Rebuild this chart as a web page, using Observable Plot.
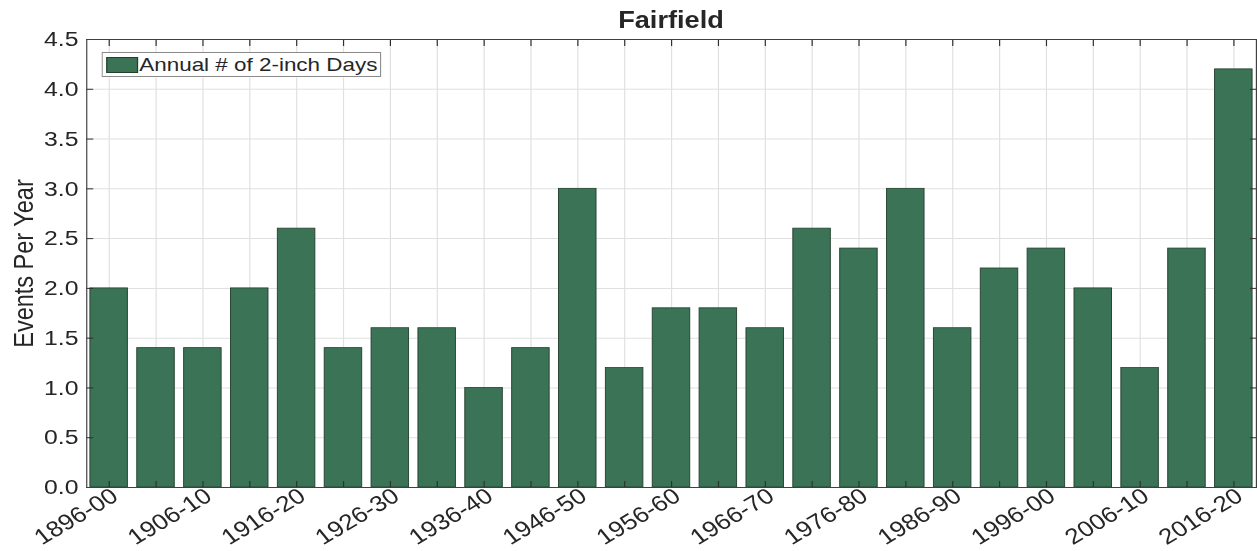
<!DOCTYPE html>
<html>
<head>
<meta charset="utf-8">
<script src="https://cdn.jsdelivr.net/npm/d3@7"></script>
<script src="https://cdn.jsdelivr.net/npm/@observablehq/plot@0.6"></script>
<style>
  html, body { margin: 0; padding: 0; background: #fff; overflow: hidden; }
  #wrap { position: relative; width: 1065px; height: 551px; transform-origin: 0 0; font-family: "Liberation Sans", Arial, sans-serif; color: #262626; }
  #title { position: absolute; top: 0; height: 40px; line-height: 40px; text-align: center; font-weight: bold; font-size: 23px; }
  #legend { position: absolute; left: 86px; top: 52px; width: 237px; height: 25px; border: 1px solid #8a8a8a; background: #fff; box-sizing: border-box; display: flex; align-items: center; font-size: 19px; }
  #legend .sw { width: 27px; height: 16px; background: #3a7356; border: 1px solid #26402f; box-sizing: border-box; margin-left: 3px; margin-right: 1px; }
</style>
</head>
<body>
<div id="wrap">
  <div id="chart"></div>
  <div id="title"></div>
  <div id="legend"><div class="sw"></div><span id="legtext"></span></div>
</div>
<script>
const periods = ["1896-00","1901-05","1906-10","1911-15","1916-20","1921-25","1926-30","1931-35","1936-40","1941-45","1946-50","1951-55","1956-60","1961-65","1966-70","1971-75","1976-80","1981-85","1986-90","1991-95","1996-00","2001-05","2006-10","2011-15","2016-20"];
const values = [2.0,1.4,1.4,2.0,2.6,1.4,1.6,1.6,1.0,1.4,3.0,1.2,1.8,1.8,1.6,2.6,2.4,3.0,1.6,2.2,2.4,2.0,1.2,2.4,4.2];
const yTicks = [0,0.5,1.0,1.5,2.0,2.5,3.0,3.5,4.0,4.5];
const titleText = "Fairfield";
const seriesName = "Annual # of 2-inch Days";
const yLabel = "Events Per Year";

const data = periods.map((p, i) => ({period: p, value: values[i]}));
const labelSet = new Set(periods.filter((p, i) => i % 2 === 0));

const W = 1065, H = 551;
const mL = 73, mR = 1, mT = 39, mB = 64;
const scaleX = 1257 / W;
document.getElementById("wrap").style.transform = `scaleX(${scaleX})`;

const ink = "#262626";
const chart = Plot.plot({
  width: W,
  height: H,
  marginLeft: mL,
  marginRight: mR,
  marginTop: mT,
  marginBottom: mB,
  style: {fontFamily: "'Liberation Sans', Arial, sans-serif", fontSize: "21px", color: ink, background: "#fff", overflow: "visible"},
  x: {type: "band", domain: periods, paddingInner: 0.2, paddingOuter: 0.08, round: false, axis: null},
  y: {domain: [0, 4.5], axis: null},
  marks: [
    Plot.gridX(periods, {stroke: "#e0e0e0", strokeOpacity: 1}),
    Plot.gridY(yTicks, {stroke: "#e0e0e0", strokeOpacity: 1}),
    Plot.barY(data, {x: "period", y: "value", fill: "#3a7356", stroke: "#26402f", strokeWidth: 0.8}),
    Plot.axisX(periods, {anchor: "bottom", tickSize: -6, stroke: "#303030", tickFormat: () => "", label: null}),
    Plot.axisX(periods, {anchor: "top", tickSize: -6, stroke: "#303030", tickFormat: () => "", label: null}),
    Plot.axisX(periods, {anchor: "bottom", tickSize: 0, tickPadding: 6, tickRotate: -35, fill: ink, fontSize: 22, tickFormat: d => labelSet.has(d) ? d : "", dx: 5, label: null}),
    Plot.axisY(yTicks, {anchor: "left", tickSize: -6, stroke: "#303030", tickFormat: () => "", label: null}),
    Plot.axisY(yTicks, {anchor: "right", tickSize: -6, stroke: "#303030", tickFormat: () => "", label: null}),
    Plot.axisY(yTicks, {anchor: "left", tickSize: 0, tickPadding: 7, fill: ink, fontSize: 21, tickFormat: d3.format(".1f"), label: null}),
    Plot.axisY(yTicks, {anchor: "left", tickSize: 0, fill: ink, fontSize: 23.5, tickFormat: () => "",
      label: yLabel, labelAnchor: "center", labelArrow: "none", labelOffset: 62}),
    Plot.frame({stroke: "#404040", strokeWidth: 1})
  ]
});
document.getElementById("chart").appendChild(chart);

const t = document.getElementById("title");
t.textContent = titleText;
t.style.left = mL + "px";
t.style.width = (W - mL - mR) + "px";
document.getElementById("legtext").textContent = seriesName;
</script>
</body>
</html>
